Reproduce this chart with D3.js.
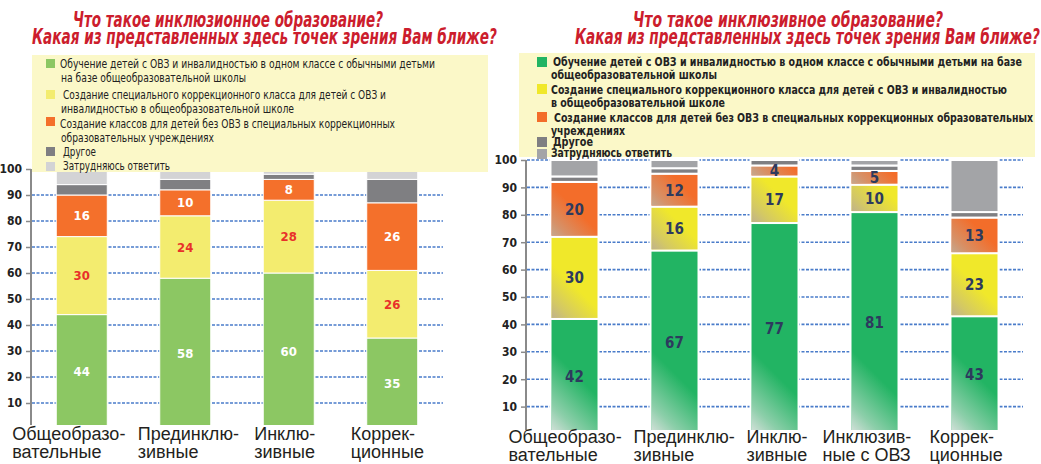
<!DOCTYPE html>
<html>
<head>
<meta charset="utf-8">
<script src="https://cdn.jsdelivr.net/npm/d3@7"></script>
<style>
  body { margin: 0; background: #fff; }
  svg { display: block; }
</style>
</head>
<body>
<svg id="canvas" width="1041" height="464"></svg>
<script>
// answer keys, bottom to top of each stack
const keys = ['green', 'yellow', 'orange', 'other', 'unsure']
const yTicks = [10, 20, 30, 40, 50, 60, 70, 80, 90, 100]

// left survey
const leftTitle = ['Что такое инклюзионное образование?', 'Какая из представленных здесь точек зрения Вам ближе?']
const leftCategories = [['Общеобразо-', 'вательные'], ['Прединклю-', 'зивные'], ['Инклю-', 'зивные'], ['Коррек-', 'ционные']]
const leftGreen = [44, 58, 60, 35]
const leftYellow = [30, 24, 28, 26]
const leftOrange = [16, 10, 8, 26]
const leftOther = [4, 4, 2, 9]
const leftUnsure = [6, 4, 2, 4]
const leftLegend = [
    ['Обучение детей с ОВЗ и инвалидностью в одном классе с обычными детьми', 'на базе общеобразовательной школы'],
    ['Создание специального коррекционного класса для детей с ОВЗ и', 'инвалидностью в общеобразовательной школе'],
    ['Создание классов для детей без ОВЗ в специальных коррекционных', 'образовательных учреждениях'],
    ['Другое'],
    ['Затрудняюсь ответить']
]

// right survey
const rightTitle = ['Что такое инклюзивное образование?', 'Какая из представленных здесь точек зрения Вам ближе?']
const rightCategories = [['Общеобразо-', 'вательные'], ['Прединклю-', 'зивные'], ['Инклю-', 'зивные'], ['Инклюзив-', 'ные с ОВЗ'], ['Коррек-', 'ционные']]
const rightGreen = [42, 67, 77, 81, 43]
const rightYellow = [30, 16, 17, 10, 23]
const rightOrange = [20, 12, 4, 5, 13]
const rightOther = [2, 2, 2, 2, 2]
const rightUnsure = [6, 3, 0, 2, 19]
const rightLegend = [
    ['Обучение детей с ОВЗ и инвалидностью в одном классе с обычными детьми на базе', 'общеобразовательной школы'],
    ['Создание специального коррекционного класса для детей с ОВЗ и инвалидностью', 'в общеобразовательной школе'],
    ['Создание классов для детей без ОВЗ в специальных коррекционных образовательных', 'учреждениях'],
    ['Другое'],
    ['Затрудняюсь ответить']
]

const narrow = "'Liberation Sans Narrow', 'DejaVu Sans Condensed', sans-serif"
const plain = "'Liberation Sans', Arial, sans-serif"

const svg = d3.select('#canvas')
const defs = svg.append('defs')

const drawPanel = p => {
    const table = p.categories.map((c, i) => ({
        cat: i, green: p.values[0][i], yellow: p.values[1][i], orange: p.values[2][i],
        other: p.values[3][i], unsure: p.values[4][i]
    }))
    const series = d3.stack().keys(keys)(table)

    const x = d3.scaleBand().domain(d3.range(p.categories.length))
        .range(p.xRange).paddingInner(p.padIn).paddingOuter(p.padOut)
    const y = d3.scaleLinear().domain([0, 100]).range(p.yRange)
    const g = svg.append('g')

    // dashed gridlines
    g.selectAll('line.grid')
        .data(yTicks)
        .enter()
        .append('line')
            .attr('x1', p.xRange[0] + 1).attr('x2', p.xRange[1])
            .attr('y1', d => y(d)).attr('y2', d => y(d))
            .attr('stroke', '#4a7cca').attr('stroke-width', 1.6)
            .attr('stroke-dasharray', '3,1.5')

    // y axis
    const ag = g.append('g')
        .attr('transform', `translate(${p.xRange[0]},0)`)
        .call(d3.axisLeft(y).tickValues(yTicks).tickSize(5).tickPadding(p.tickPad))
    ag.select('.domain').remove()
    ag.selectAll('.tick line').attr('stroke', '#8a8a8a').attr('stroke-width', 1.5)
    ag.selectAll('.tick text')
        .attr('font-family', narrow).attr('font-weight', 'bold')
        .attr('font-size', 12).attr('fill', '#222')
    g.append('line')
        .attr('x1', p.xRange[0]).attr('x2', p.xRange[0])
        .attr('y1', y(100)).attr('y2', p.bottom)
        .attr('stroke', '#8a8a8a').attr('stroke-width', 2)

    // bars are cut off a little above zero in the original
    defs.append('clipPath').attr('id', `${p.id}-clip`)
        .append('rect').attr('x', 0).attr('y', 0).attr('width', 1041).attr('height', p.bottom)
    const bars = g.append('g').attr('clip-path', `url(#${p.id}-clip)`)

    series.forEach((s, k) => {
        const segs = s.filter(d => d[1] > d[0])
        bars.selectAll(null)
            .data(segs)
            .enter()
            .append('rect')
                .attr('x', d => x(d.data.cat))
                .attr('y', d => y(d[1]))
                .attr('width', x.bandwidth())
                .attr('height', d => y(d[0]) - y(d[1]))
                .attr('fill', p.colors[k])
                .attr('stroke', '#fff').attr('stroke-width', p.gap)

        // faded bottom-left corner on the right chart
        if (p.fade && p.fade[k]) {
            const f = p.fade[k]
            segs.forEach(d => {
                const bx = x(d.data.cat), by = y(d[0]) - p.gap / 2
                const id = `${p.id}-f${k}-${d.data.cat}`
                const grad = defs.append('linearGradient').attr('id', id)
                    .attr('gradientUnits', 'userSpaceOnUse')
                    .attr('x1', bx).attr('y1', by).attr('x2', bx + f.len).attr('y2', by - f.len)
                grad.append('stop').attr('offset', 0).attr('stop-color', f.color).attr('stop-opacity', 0.95)
                grad.append('stop').attr('offset', 0.35).attr('stop-color', f.color).attr('stop-opacity', 0.55)
                grad.append('stop').attr('offset', 1).attr('stop-color', f.color).attr('stop-opacity', 0)
                bars.append('rect')
                    .attr('x', bx + p.gap / 2).attr('y', y(d[1]) + p.gap / 2)
                    .attr('width', x.bandwidth() - p.gap)
                    .attr('height', Math.max(0, y(d[0]) - y(d[1]) - p.gap))
                    .attr('fill', `url(#${id})`)
            })
        }

        // value labels on the three main answers
        if (k < 3) {
            g.selectAll(null)
                .data(segs)
                .enter()
                .append('text')
                    .attr('x', d => x(d.data.cat) + x.bandwidth() / 2)
                    .attr('y', d => y((d[0] + d[1]) / 2))
                    .attr('dy', '0.36em')
                    .attr('text-anchor', 'middle')
                    .attr('font-family', narrow).attr('font-weight', 'bold')
                    .attr('font-size', p.valueSize)
                    .attr('fill', p.valueColors[k])
                    .text(d => d.data[keys[k]])
        }
    })

    // category labels, shifted left of their bars as in the original
    p.categories.forEach((lines, i) => {
        lines.forEach((t, j) => {
            g.append('text')
                .attr('x', x(i) + p.catShift[i])
                .attr('y', p.catBase[j])
                .attr('font-family', plain).attr('font-size', 18)
                .attr('fill', '#231f20')
                .text(t)
        })
    })

    // legend box
    const L = p.legend
    g.append('rect')
        .attr('x', L.box[0]).attr('y', L.box[1]).attr('width', L.box[2]).attr('height', L.box[3])
        .attr('fill', '#fbf8c8')
    p.legendText.forEach((lines, i) => {
        g.append('rect')
            .attr('x', L.sqX).attr('y', L.sqY[i]).attr('width', L.sq).attr('height', L.sq)
            .attr('fill', p.colors[i])
        lines.forEach((t, j) => {
            g.append('text')
                .attr('x', j ? L.x2 : L.x[i])
                .attr('y', L.base[i] + j * L.lead)
                .attr('font-family', narrow).attr('font-size', L.size)
                .attr('font-weight', L.weight)
                .attr('fill', '#222')
                .attr('textLength', L.widths[i][j]).attr('lengthAdjust', 'spacingAndGlyphs')
                .text(t)
        })
    })

    // title
    p.title.forEach((t, j) => {
        g.append('text')
            .attr('x', p.titleX[j]).attr('y', p.titleBase[j])
            .attr('font-family', narrow).attr('font-size', 21)
            .attr('font-weight', 'bold').attr('font-style', 'italic')
            .attr('fill', '#cc1d2d')
            .attr('textLength', p.titleW[j]).attr('lengthAdjust', 'spacingAndGlyphs')
            .text(t)
    })
}

drawPanel({
    id: 'left',
    title: leftTitle, titleX: [73, 32], titleBase: [27, 44], titleW: [310, 465],
    categories: leftCategories,
    values: [leftGreen, leftYellow, leftOrange, leftOther, leftUnsure],
    colors: ['#8cc763', '#f3ec6f', '#f4702b', '#7f7f82', '#d3d3d5'],
    valueColors: ['#fff', '#e8312a', '#fff'], valueSize: 13,
    xRange: [31, 443], padIn: 0.507, padOut: 0.244,
    yRange: [429, 169], bottom: 425, tickPad: 4, gap: 1,
    catShift: [-44, -22, -9, -16], catBase: [440, 458],
    legendText: leftLegend,
    legend: {
        box: [32, 55, 456, 117], sqX: 46, sq: 9, sqY: [59, 90, 117, 147, 162],
        x: [60, 63, 60, 63, 63], x2: 61, base: [68, 99, 128, 156, 170], lead: 14,
        size: 12.5, weight: 'normal',
        widths: [[375, 185], [323, 233], [335, 153], [33], [107]]
    }
})

drawPanel({
    id: 'right',
    title: rightTitle, titleX: [633, 575], titleBase: [27, 44], titleW: [310, 465],
    categories: rightCategories,
    values: [rightGreen, rightYellow, rightOrange, rightOther, rightUnsure],
    colors: ['#22b463', '#f0e82a', '#f36d2a', '#7f7f82', '#a3a4a7'],
    valueColors: ['#2d3a5e', '#2d3a5e', '#2d3a5e'], valueSize: 15,
    fade: [{ color: '#e4e4e4', len: 42 }, { color: '#bcae94', len: 28 }, { color: '#c0ad98', len: 26 }],
    xRange: [526, 1023], padIn: 0.52, padOut: 0.245,
    yRange: [434, 160], bottom: 430, tickPad: 4, gap: 2,
    catShift: [-42, -17, -4, -28, -21], catBase: [443, 461],
    legendText: rightLegend,
    legend: {
        box: [519, 53, 516, 104], sqX: 537, sq: 10, sqY: [57, 84, 112, 137, 149],
        x: [553, 551, 554, 553, 551], x2: 551, base: [66, 94, 122, 146, 157], lead: 12.5,
        size: 13, weight: 'bold',
        widths: [[469, 166], [456, 174], [479, 74], [40], [121]]
    }
})
</script>
</body>
</html>
